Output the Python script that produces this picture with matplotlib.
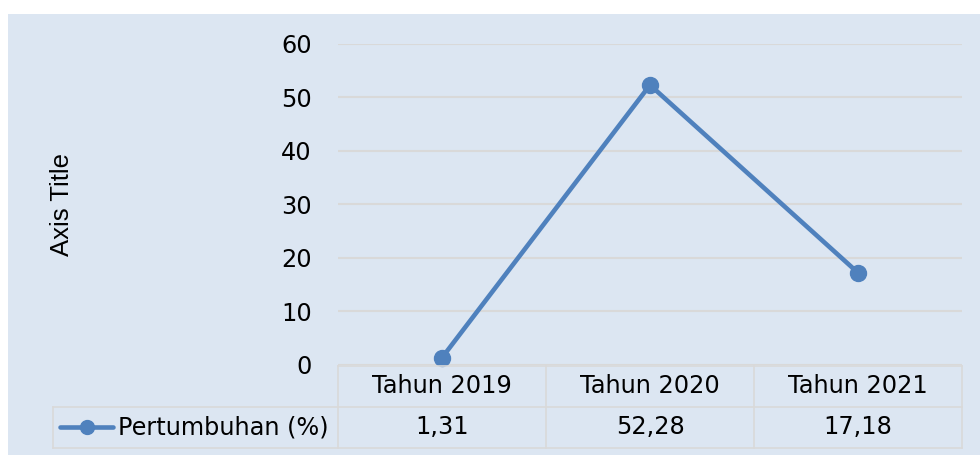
import matplotlib
matplotlib.use("Agg")
import matplotlib.pyplot as plt
from matplotlib.lines import Line2D

categories = ["Tahun 2019", "Tahun 2020", "Tahun 2021"]
values = [1.31, 52.28, 17.18]
value_labels = ["1,31", "52,28", "17,18"]
series_name = "Pertumbuhan (%)"
yticks = [0, 10, 20, 30, 40, 50, 60]

W, H = 980, 455
BG = "#dce6f2"
GRID = "#d9d9d9"
LINE = "#4f81bd"
FONT = "DejaVu Sans"
FS = 17.3

fig = plt.figure(figsize=(W / 100, H / 100), dpi=100, facecolor="white")

def fx(x):
    return x / W

def fy(y):
    return 1 - y / H

# chart background
bg = plt.Rectangle((fx(8), 0), 1 - fx(8), fy(14), transform=fig.transFigure,
                   facecolor=BG, edgecolor="none", zorder=-10)
fig.add_artist(bg)

L, R, T, B = 338, 962, 43.7, 364.7
ax = fig.add_axes([fx(L), fy(B), fx(R) - fx(L), fy(T) - fy(B)])
ax.set_zorder(1)
ax.set_facecolor("none")
ax.set_xlim(0, len(categories))
ax.set_ylim(0, 60)
ax.set_yticks(yticks)
ax.set_yticklabels([str(t) for t in yticks], fontsize=FS, family=FONT)
ax.tick_params(axis="y", length=0, pad=19)
ax.set_xticks([])
for s in ax.spines.values():
    s.set_visible(False)
ax.grid(axis="y", color=GRID, linewidth=1.5)
ax.set_axisbelow(True)

xs = [i + 0.5 for i in range(len(categories))]
ax.plot(xs, values, color=LINE, linewidth=3.3, marker="o", markersize=11.5,
        markerfacecolor=LINE, markeredgecolor=LINE, solid_capstyle="round", clip_on=False, zorder=3)

fig.text(fx(62), fy(205), "Axis Title", rotation=90, ha="center", va="center",
         fontsize=18.5, family="Liberation Sans")

# data table
cols = [338, 546, 754, 962]
r0, r1, r2 = 366, 406.7, 448
lw = 1.2

def hline(x0, x1, y):
    fig.add_artist(Line2D([fx(x0), fx(x1)], [fy(y), fy(y)], transform=fig.transFigure,
                          color=GRID, linewidth=lw))

def vline(x, y0, y1):
    fig.add_artist(Line2D([fx(x), fx(x)], [fy(y0), fy(y1)], transform=fig.transFigure,
                          color=GRID, linewidth=lw))

hline(cols[0], cols[-1], r0)
hline(53, cols[-1], r1)
hline(53, cols[-1], r2)
for c in cols:
    vline(c, r0, r2)
vline(53, r1, r2)

for i, (cat, vl) in enumerate(zip(categories, value_labels)):
    cx = (cols[i] + cols[i + 1]) / 2
    fig.text(fx(cx), fy((r0 + r1) / 2), cat, ha="center", va="center", fontsize=FS, family=FONT)
    fig.text(fx(cx), fy((r1 + r2) / 2), vl, ha="center", va="center", fontsize=FS, family=FONT)

ly = (r1 + r2) / 2
fig.add_artist(Line2D([fx(60), fx(113)], [fy(ly), fy(ly)], transform=fig.transFigure,
                      color=LINE, linewidth=3.3, solid_capstyle="round"))
fig.add_artist(Line2D([fx(86.5)], [fy(ly)], transform=fig.transFigure, color=LINE,
                      marker="o", markersize=10, linestyle="none"))
fig.text(fx(118), fy(ly), series_name, ha="left", va="center", fontsize=FS, family=FONT)

fig.savefig("out.png", dpi=100, facecolor="white")
